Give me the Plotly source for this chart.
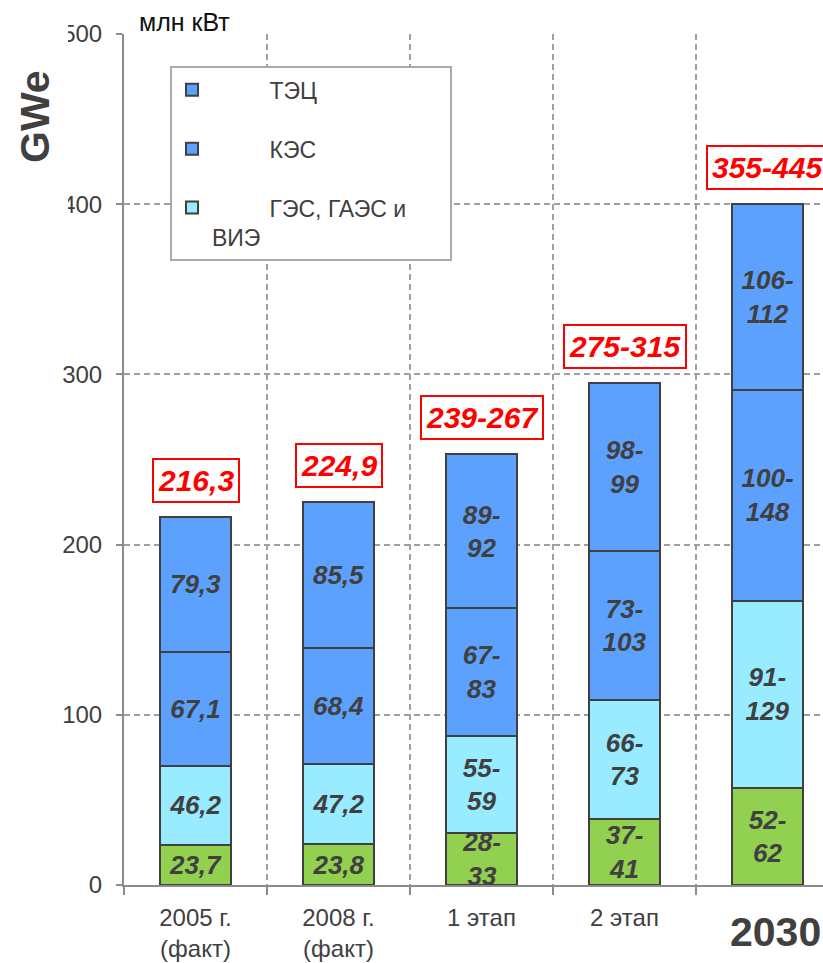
import plotly.graph_objects as go

# ---- data ----
categories = ["2005 г.", "2008 г.", "1 этап", "2 этап", "2030"]
tick_labels = ["2005 г.<br>(факт)", "2008 г.<br>(факт)", "1 этап", "2 этап", ""]
big_label = "2030"

# segment heights (midpoints of the ranges shown), bottom -> top
aes_vals = [23.7, 23.8, 30.5, 39.0, 57.0]
ges_vals = [46.2, 47.2, 57.0, 69.5, 110.0]
kes_vals = [67.1, 68.4, 75.0, 88.0, 124.0]
tec_vals = [79.3, 85.5, 90.5, 98.5, 109.0]

aes_text = ["23,7", "23,8", "28-<br>33", "37-<br>41", "52-<br>62"]
ges_text = ["46,2", "47,2", "55-<br>59", "66-<br>73", "91-<br>129"]
kes_text = ["67,1", "68,4", "67-<br>83", "73-<br>103", "100-<br>148"]
tec_text = ["79,3", "85,5", "89-<br>92", "98-<br>99", "106-<br>112"]

totals = [216.3, 224.9, 253.0, 295.0, 400.0]
total_text = ["216,3", "224,9", "239-267", "275-315", "355-445"]

series_names = ["АЭС", "ГЭС, ГАЭС и ВИЭ", "КЭС", "ТЭЦ"]
legend_names = [None,
                "\u00a0" * 9 + "ГЭС, ГАЭС и" + "\u00a0" * 6 + "<br>ВИЭ",
                "\u00a0" * 9 + "КЭС",
                "\u00a0" * 9 + "ТЭЦ"]
legend_ranks = [None, 3, 2, 1]

BLUE = "#5DA1FF"
CYAN = "#99EBFF"
GREEN = "#92D050"
DARK = "#404040"
FONT = "Liberation Sans, Arial, sans-serif"

fig = go.Figure()
series = [(aes_vals, aes_text, GREEN), (ges_vals, ges_text, CYAN),
          (kes_vals, kes_text, BLUE), (tec_vals, tec_text, BLUE)]
for i, (vals, txt, col) in enumerate(series):
    fig.add_trace(go.Bar(
        x=categories, y=vals, text=txt, name=legend_names[i] or series_names[i],
        showlegend=legend_names[i] is not None, legendgroup=series_names[i],
        legendrank=legend_ranks[i] or 1000,
        marker=dict(color=col, line=dict(color=DARK, width=2)),
        textposition="inside", insidetextanchor="middle", textangle=0,
        constraintext="none", width=0.5,
        textfont=dict(family=FONT, size=26, color=DARK, weight="bold", style="italic"),
        hoverinfo="skip",
    ))

# category positions on the categorical axis (index based, so "2030" is not read as a number)
for idx, (t, lbl) in enumerate(zip(totals, total_text)):
    fig.add_annotation(
        x=idx, y=t, xref="x", yref="y", text=lbl, showarrow=False,
        yanchor="bottom", yshift=14,
        font=dict(family=FONT, size=30, color="#FF0000", weight="bold", style="italic"),
        bordercolor="#FF0000", borderwidth=2, borderpad=4, bgcolor="white",
    )

# big bold label under the last category
fig.add_annotation(x=len(categories) - 1, y=-0.0552, xref="x", yref="paper",
                   text="<b>" + big_label + "</b>", xshift=8,
                   showarrow=False, xanchor="center", yanchor="middle",
                   font=dict(family=FONT, size=41, color=DARK))

# white patch that hides part of the y tick labels, and the GWe title
fig.add_shape(type="rect", xref="paper", yref="paper",
              x0=-0.18, x1=-0.0800, y0=0.779, y1=1.05,
              fillcolor="white", line=dict(width=0), layer="above")
fig.add_annotation(x=-0.1273, y=0.9025, xref="paper", yref="paper", text="<b>GWe</b>",
                   showarrow=False, textangle=-90, xanchor="center", yanchor="middle",
                   font=dict(family=FONT, size=41, color=DARK))
fig.add_annotation(x=0.019, y=1.014, xref="paper", yref="paper", text="млн кВт",
                   showarrow=False, xanchor="left", yanchor="middle",
                   font=dict(family=FONT, size=25, color="#111111"))

fig.update_layout(
    width=823, height=963, autosize=False,
    margin=dict(l=124, r=0, t=34, b=78),
    paper_bgcolor="white", plot_bgcolor="white",
    barmode="stack",
    font=dict(family=FONT, color=DARK),
    legend=dict(x=0.0658, y=0.962, xanchor="left", yanchor="top",
                bgcolor="white", bordercolor="#AAAAAA", borderwidth=2,
                font=dict(family=FONT, size=23, color=DARK),
                traceorder="grouped", tracegroupgap=26, valign="top",
                itemclick=False),
    xaxis=dict(type="category", range=[-0.5, 4.388], tickmode="array",
               tickvals=categories, ticktext=tick_labels,
               tickson="boundaries", ticks="outside", ticklen=8, tickcolor="#8C8C8C",
               tickwidth=2,
               showline=True, linecolor="#8C8C8C", linewidth=2,
               showgrid=True, gridcolor="#A0A0A0", gridwidth=1.5, griddash="6px,4px",
               tickfont=dict(family=FONT, size=24, color=DARK), ticklabelstandoff=10),
    yaxis=dict(range=[0, 500], tickvals=[0, 100, 200, 300, 400, 500],
               ticks="outside", ticklen=6, tickcolor="#8C8C8C", tickwidth=2,
               showline=True, linecolor="#8C8C8C", linewidth=2,
               showgrid=True, gridcolor="#A0A0A0", gridwidth=1.5, griddash="6px,4px",
               zeroline=False,
               tickfont=dict(family=FONT, size=24, color=DARK), ticklabelstandoff=9),
)

fig.write_html("out.html")
